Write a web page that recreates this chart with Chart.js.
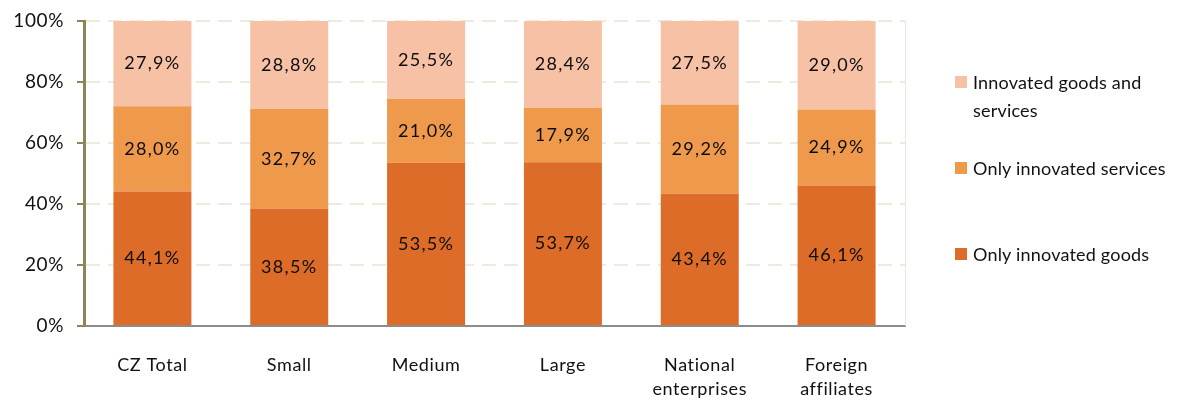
<!DOCTYPE html>
<html>
<head>
<meta charset="utf-8">
<script src="https://cdn.jsdelivr.net/npm/chart.js@4/dist/chart.umd.min.js"></script>
<style>
  body { margin: 0; background: #fff; }
  #wrap { position: relative; width: 1195px; height: 401px; }
  #legend { position: absolute; left: 955px; top: 0; font-family: Lato, "Open Sans", sans-serif; font-size: 18px; letter-spacing: 0.2px; color: #111; }
  .item { position: absolute; left: 0; white-space: nowrap; line-height: 28px; }
  .box { position: absolute; left: 0; top: 8px; width: 12px; height: 12px; }
  .txt { position: absolute; left: 18px; top: 0; }
</style>
</head>
<body>
<div id="wrap">
  <canvas id="chart" width="1195" height="401"></canvas>
  <div id="legend"></div>
</div>
<script>
const categories = [['CZ Total'], ['Small'], ['Medium'], ['Large'], ['National', 'enterprises'], ['Foreign', 'affiliates']];
const onlyGoods = [44.1, 38.5, 53.5, 53.7, 43.4, 46.1];
const onlyServices = [28.0, 32.7, 21.0, 17.9, 29.2, 24.9];
const goodsAndServices = [27.9, 28.8, 25.5, 28.4, 27.5, 29.0];
const seriesNames = ['Only innovated goods', 'Only innovated services', 'Innovated goods and services'];
const colors = ['#dc6c28', '#ef994d', '#f7c1a6'];

const fontFamily = 'Lato, "Open Sans", sans-serif';

// a bit of tracking so Lato is about as wide as the original Calibri
const spacing = {
    id: 'spacing',
    beforeInit(chart) { chart.ctx.letterSpacing = '0.6px'; },
    beforeDraw(chart) { chart.ctx.letterSpacing = '0.6px'; }
};

// numbers in the bars, Czech decimal comma
const barLabels = {
    id: 'barLabels',
    afterDatasetsDraw(chart) {
        const ctx = chart.ctx;
        ctx.save();
        ctx.font = '18px ' + fontFamily;
        ctx.letterSpacing = '1.3px';
        ctx.fillStyle = '#0d0d0d';
        ctx.textAlign = 'center';
        ctx.textBaseline = 'middle';
        chart.data.datasets.forEach((ds, i) => {
            chart.getDatasetMeta(i).data.forEach((bar, j) => {
                const y = (bar.y + bar.base) / 2;
                ctx.fillText(ds.data[j].toFixed(1).replace('.', ',') + '%', bar.x, y);
            });
        });
        // faint plot area border on the right
        const a = chart.chartArea;
        ctx.strokeStyle = '#e6e6dc';
        ctx.lineWidth = 1;
        ctx.beginPath();
        ctx.moveTo(a.right + 0.5, a.top);
        ctx.lineTo(a.right + 0.5, a.bottom);
        ctx.stroke();
        ctx.restore();
    }
};

const ctx = document.getElementById('chart').getContext('2d');
const chart = new Chart(ctx, {
    type: 'bar',
    data: {
        labels: categories,
        datasets: [
            { label: seriesNames[0], data: onlyGoods, backgroundColor: colors[0] },
            { label: seriesNames[1], data: onlyServices, backgroundColor: colors[1] },
            { label: seriesNames[2], data: goodsAndServices, backgroundColor: colors[2] }
        ]
    },
    options: {
        responsive: false,
        animation: false,
        layout: { padding: { left: 0, right: 290, top: 6, bottom: 0 } },
        datasets: { bar: { categoryPercentage: 1, barPercentage: 0.57 } },
        plugins: { legend: { display: false }, tooltip: { enabled: false } },
        scales: {
            x: {
                stacked: true,
                grid: { display: false },
                border: { color: '#8c8c8c', width: 2 },
                ticks: { color: '#111', font: { family: fontFamily, size: 18, lineHeight: 1.35 }, padding: 19 },
                afterFit: s => { s.height = 75; }
            },
            y: {
                stacked: true,
                min: 0,
                max: 100,
                ticks: {
                    stepSize: 20,
                    color: '#111',
                    font: { family: fontFamily, size: 19, lineHeight: 0.85 },
                    padding: 13,
                    callback: v => v + '%'
                },
                grid: {
                    color: '#ebebde',
                    lineWidth: 2,
                    tickLength: 7,
                    tickColor: '#8f8455',
                    tickBorderDash: [],
                    tickWidth: 2
                },
                border: { color: '#8f8455', width: 3, dash: [14, 8] },
                afterFit: s => { s.width = 84; }
            }
        }
    },
    plugins: [spacing, barLabels]
});

// legend on the right, top entry wraps like the original
const legend = document.getElementById('legend');
const legendRows = [
    { i: 2, top: 68, text: 'Innovated goods and<br>services' },
    { i: 1, top: 154, text: seriesNames[1] },
    { i: 0, top: 240, text: seriesNames[0] }
];
legendRows.forEach(r => {
    const el = document.createElement('div');
    el.className = 'item';
    el.style.top = r.top + 'px';
    el.innerHTML = '<span class="box" style="background:' + colors[r.i] + '"></span><span class="txt">' + r.text + '</span>';
    legend.appendChild(el);
});
</script>
</body>
</html>
